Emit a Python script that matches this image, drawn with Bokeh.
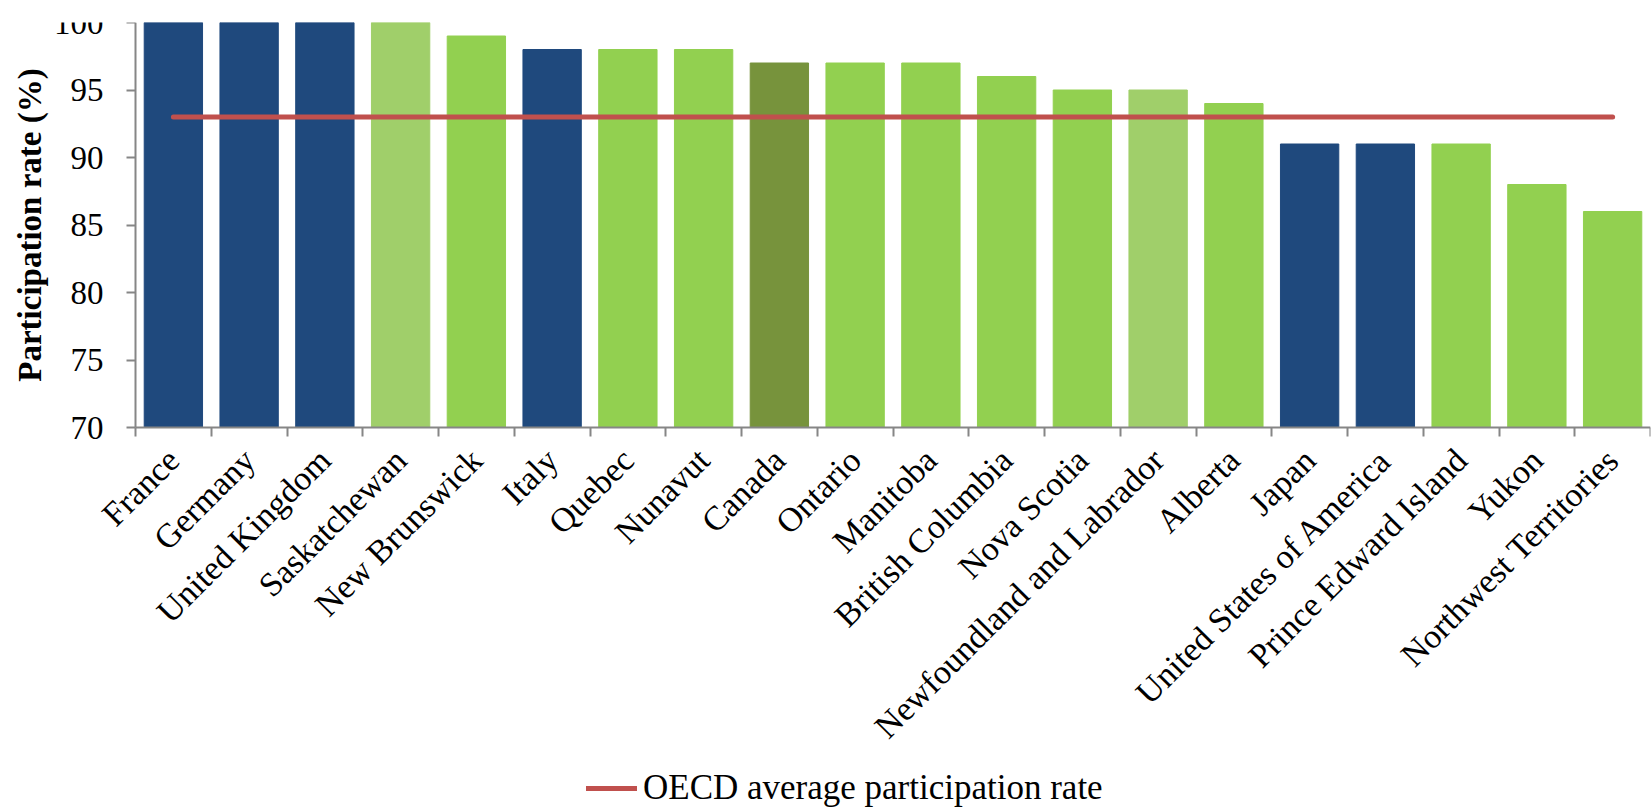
import math
from bokeh.plotting import figure
from bokeh.models import FixedTicker, Legend, LegendItem, ColumnDataSource, Label
from bokeh.embed import file_html
from bokeh.resources import INLINE

categories = ["France", "Germany", "United Kingdom", "Saskatchewan", "New Brunswick",
              "Italy", "Quebec", "Nunavut", "Canada", "Ontario", "Manitoba",
              "British Columbia", "Nova Scotia", "Newfoundland and Labrador", "Alberta",
              "Japan", "United States of America", "Prince Edward Island", "Yukon",
              "Northwest Territories"]
rates = [100, 100, 100, 100, 99, 98, 98, 98, 97, 97, 97, 96, 95, 95, 94, 91, 91, 91, 88, 86]
groups = ["oecd", "oecd", "oecd", "prov_light", "prov", "oecd", "prov", "prov", "canada",
          "prov", "prov", "prov", "prov", "prov_light", "prov", "oecd", "oecd", "prov",
          "prov", "prov"]
oecd_average = 93
y_ticks = [70, 75, 80, 85, 90, 95, 100]
y_title = "Participation rate (%)"
legend_label = "OECD average participation rate"

palette = {"oecd": "#1F497D", "prov": "#92D050", "prov_light": "#A0CF6A", "canada": "#77933C"}
FONT = "Liberation Serif"

# layout (pixels): plot area 1515 x 405 starting at (135, 22); room below and left for labels
LEFT_W, PLOT_W = 135, 1515
PLOT_H, BELOW_H = 405, 381
n = len(categories)
y_min, y_max = y_ticks[0], y_ticks[-1]
y_start = y_min - (y_max - y_min) * BELOW_H / PLOT_H
x_start = -n * LEFT_W / PLOT_W

xs = [i + 0.5 for i in range(n)]
src = ColumnDataSource(dict(x=xs, top=rates, color=[palette[g] for g in groups]))

p = figure(frame_width=LEFT_W + PLOT_W, frame_height=PLOT_H + BELOW_H, output_backend="svg",
           toolbar_location=None, x_range=(x_start, n), y_range=(y_start, y_max),
           min_border_left=0, min_border_right=2, min_border_top=22, min_border_bottom=0)
p.outline_line_color = None
p.grid.grid_line_color = None
p.background_fill_color = "white"
p.border_fill_color = "white"

p.vbar(x="x", top="top", bottom=y_min, width=0.77, color="color", source=src)

avg_line = p.line([xs[0], xs[-1]], [oecd_average, oecd_average], line_color="#C0504D",
                  line_width=5, line_cap="round")

# x axis, pinned at the bottom of the value range
xa = p.xaxis[0]
xa.fixed_location = y_min
xa.bounds = (0, n)
xa.ticker = FixedTicker(ticks=xs, minor_ticks=list(range(n + 1)))
xa.major_label_overrides = {x: c for x, c in zip(xs, categories)}
xa.major_label_orientation = math.pi / 4
xa.major_tick_line_color = None
xa.minor_tick_out = 9
xa.minor_tick_in = 0
xa.minor_tick_line_color = "#868686"
xa.minor_tick_line_width = 2
xa.axis_line_color = "#868686"
xa.axis_line_width = 2
xa.major_label_text_font = FONT
xa.major_label_text_font_size = "34px"
xa.major_label_text_color = "black"
xa.major_label_standoff = 18

# y axis, pinned at the first category edge
ya = p.yaxis[0]
ya.fixed_location = 0
ya.ticker = FixedTicker(ticks=y_ticks)
ya.bounds = (y_min, y_max)
ya.minor_tick_line_color = None
ya.major_tick_out = 9
ya.major_tick_in = 0
ya.major_tick_line_color = "#868686"
ya.major_tick_line_width = 2
ya.axis_line_color = "#868686"
ya.axis_line_width = 2
ya.major_label_text_font = FONT
ya.major_label_text_font_size = "33px"
ya.major_label_text_color = "black"
ya.major_label_standoff = 23

title = Label(x=29, x_units="screen", y=(y_min + y_max) / 2, y_units="data", text=y_title,
              angle=math.pi / 2, text_align="center", text_baseline="middle",
              text_font=FONT, text_font_size="33px", text_font_style="bold",
              text_color="black")
p.add_layout(title)

legend = Legend(items=[LegendItem(label=legend_label, renderers=[avg_line])],
                orientation="horizontal", location=(586, 0),
                label_text_font=FONT, label_text_font_size="35px", label_text_color="black",
                glyph_width=51, border_line_color=None, background_fill_alpha=0,
                margin=0, padding=0, label_standoff=6, label_height=30, glyph_height=30)
p.add_layout(legend, "center")

open("out.html", "w").write(file_html(p, INLINE))
